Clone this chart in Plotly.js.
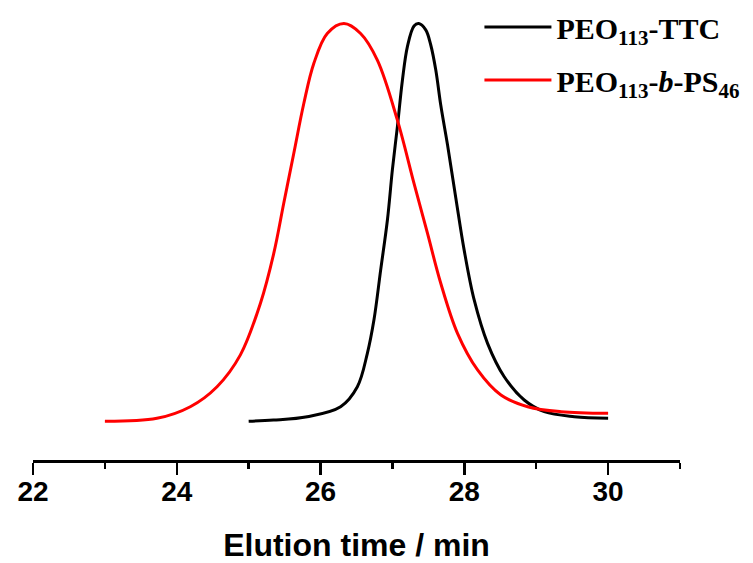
<!DOCTYPE html>
<html>
<head>
<meta charset="utf-8">
<script src="https://cdn.plot.ly/plotly-3.0.1.min.js"></script>
<style>html,body{margin:0;padding:0;background:#fff;}</style>
</head>
<body>
<div id="chart" style="width:753px;height:563px;"></div>
<script>
// Elution time (min) and normalized detector response
const ttcName = "PEO<sub>113</sub>-TTC";
const ttcX = [25.0, 25.345, 25.815, 26.279, 26.512, 26.651, 26.743, 26.836, 26.930, 26.999, 27.069, 27.139, 27.208, 27.300, 27.366, 27.463, 27.533, 27.603, 27.672, 27.766, 27.882, 27.997, 28.137, 28.323, 28.555, 28.833, 29.112, 29.530, 30.0];
const ttcY = [0.0, 0.003, 0.0116, 0.0367, 0.087, 0.171, 0.255, 0.380, 0.506, 0.632, 0.741, 0.858, 0.942, 0.994, 1.0, 0.984, 0.946, 0.883, 0.795, 0.695, 0.561, 0.431, 0.305, 0.196, 0.112, 0.0535, 0.0241, 0.0116, 0.0075];

const psName = "PEO<sub>113</sub>-<i>b</i>-PS<sub>46</sub>";
const psX = [23.0, 23.724, 24.188, 24.560, 24.885, 25.164, 25.349, 25.488, 25.628, 25.767, 25.907, 26.093, 26.325, 26.557, 26.790, 27.069, 27.300, 27.487, 27.672, 27.905, 28.184, 28.509, 28.881, 29.345, 30.0];
const psY = [0.0, 0.0075, 0.0367, 0.087, 0.167, 0.297, 0.422, 0.548, 0.674, 0.799, 0.900, 0.975, 1.0, 0.975, 0.908, 0.757, 0.598, 0.473, 0.347, 0.221, 0.129, 0.066, 0.0367, 0.0241, 0.0201];

const xTickVals = [22, 24, 26, 28, 30];
const xTickText = ["22", "24", "26", "28", "30"];

const traces = [
  {x: ttcX, y: ttcY, name: ttcName, legendgroup: "a", type: "scatter", mode: "lines",
   line: {color: "#000000", width: 3, shape: "spline", smoothing: 1}},
  {x: psX, y: psY, name: psName, legendgroup: "b", type: "scatter", mode: "lines",
   line: {color: "#ff0000", width: 3, shape: "spline", smoothing: 1}}
];

const layout = {
  width: 753, height: 563,
  margin: {l: 33, r: 73, t: 10, b: 103, autoexpand: false},
  paper_bgcolor: "#ffffff", plot_bgcolor: "#ffffff",
  showlegend: true,
  legend: {
    x: 0.69, y: 1.02, xanchor: "left", yanchor: "top",
    bgcolor: "rgba(0,0,0,0)", borderwidth: 0,
    itemwidth: 67, traceorder: "grouped", tracegroupgap: 11,
    font: {family: "Liberation Serif, Times New Roman, serif", size: 30, color: "#000", weight: "bold"}
  },
  xaxis: {
    range: [22, 31], autorange: false,
    showgrid: false, zeroline: false,
    showline: true, linecolor: "#000", linewidth: 2.5,
    ticks: "outside", ticklen: 12, tickwidth: 2.5, tickcolor: "#000",
    tickvals: xTickVals, ticktext: xTickText,
    ticklabelstandoff: -7,
    minor: {dtick: 1, tick0: 22, ticks: "outside", ticklen: 6, tickwidth: 2.5, tickcolor: "#000"},
    tickfont: {family: "Liberation Sans, Arial, sans-serif", size: 28, color: "#000", weight: "bold"},
    title: {text: "Elution time / min", standoff: 33,
            font: {family: "Liberation Sans, Arial, sans-serif", size: 32, color: "#000", weight: "bold"}}
  },
  yaxis: {
    range: [-0.0973, 1.034], autorange: false,
    visible: false, showgrid: false, zeroline: false
  }
};

Plotly.newPlot("chart", traces, layout, {displayModeBar: false, staticPlot: true});
</script>
</body>
</html>
